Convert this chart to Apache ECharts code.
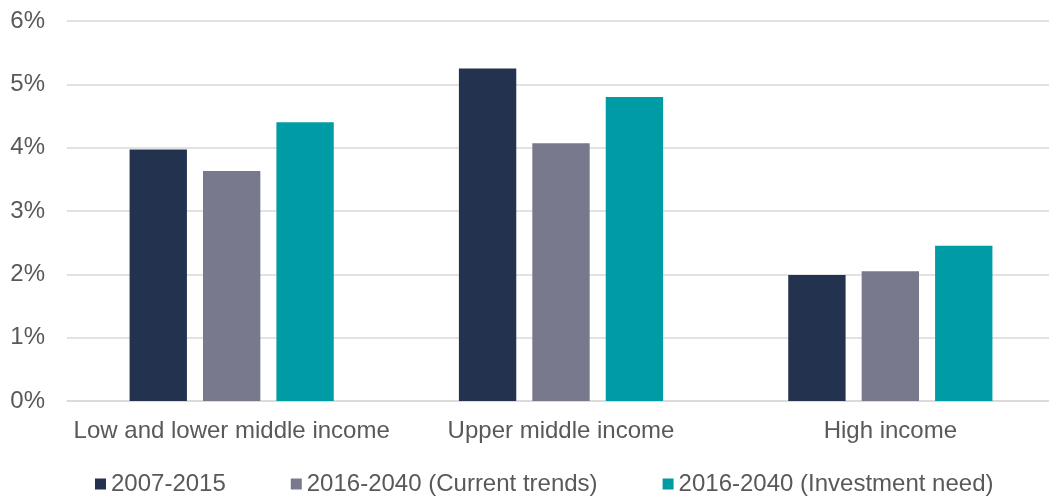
<!DOCTYPE html>
<html>
<head>
<meta charset="utf-8">
<script src="https://cdn.jsdelivr.net/npm/echarts@6/dist/echarts.min.js"></script>
<style>
html,body{margin:0;padding:0;background:#fff;}
#chart{width:1049px;height:497px;}
</style>
</head>
<body>
<div id="chart"></div>
<script>
const categories = ['Low and lower middle income', 'Upper middle income', 'High income'];
const seriesNames = ['2007-2015', '2016-2040 (Current trends)', '2016-2040 (Investment need)'];
const hist = [3.97, 5.25, 1.99];
const currentTrends = [3.63, 4.07, 2.05];
const investmentNeed = [4.40, 4.80, 2.45];
const yTicks = [0, 1, 2, 3, 4, 5, 6];
const colors = ['#23334f', '#78798c', '#009ca6'];

const chart = echarts.init(document.getElementById('chart'), null, {renderer: 'canvas'});
const font = 'Liberation Sans, Arial, sans-serif';
const dataSets = [hist, currentTrends, investmentNeed];
chart.setOption({
  animation: false,
  color: colors,
  grid: {left: 67, top: 21, width: 988, bottom: 96, containLabel: false, outerBoundsMode: 'none'},
  legend: {
    left: 95, top: 472, padding: 0, itemWidth: 11, itemHeight: 11, itemGap: 65,
    icon: 'rect',
    textStyle: {fontFamily: font, fontSize: 24, color: '#595959'},
    data: seriesNames
  },
  xAxis: {
    type: 'category', data: categories,
    axisLine: {lineStyle: {color: '#d9d9d9', width: 1.5}},
    axisTick: {show: false},
    axisLabel: {fontFamily: font, fontSize: 24, color: '#595959', margin: 18, interval: 0}
  },
  yAxis: {
    type: 'value', min: yTicks[0], max: yTicks[yTicks.length - 1], interval: 1,
    axisLine: {show: false}, axisTick: {show: false},
    splitLine: {lineStyle: {color: '#d9d9d9', width: 1.5}},
    axisLabel: {fontFamily: font, fontSize: 24, color: '#595959', margin: 22, formatter: v => v + '%'}
  },
  series: seriesNames.map((n, i) => ({
    name: n, type: 'bar', data: dataSets[i],
    barGap: '28%', barCategoryGap: '38%'
  }))
});
</script>
</body>
</html>
